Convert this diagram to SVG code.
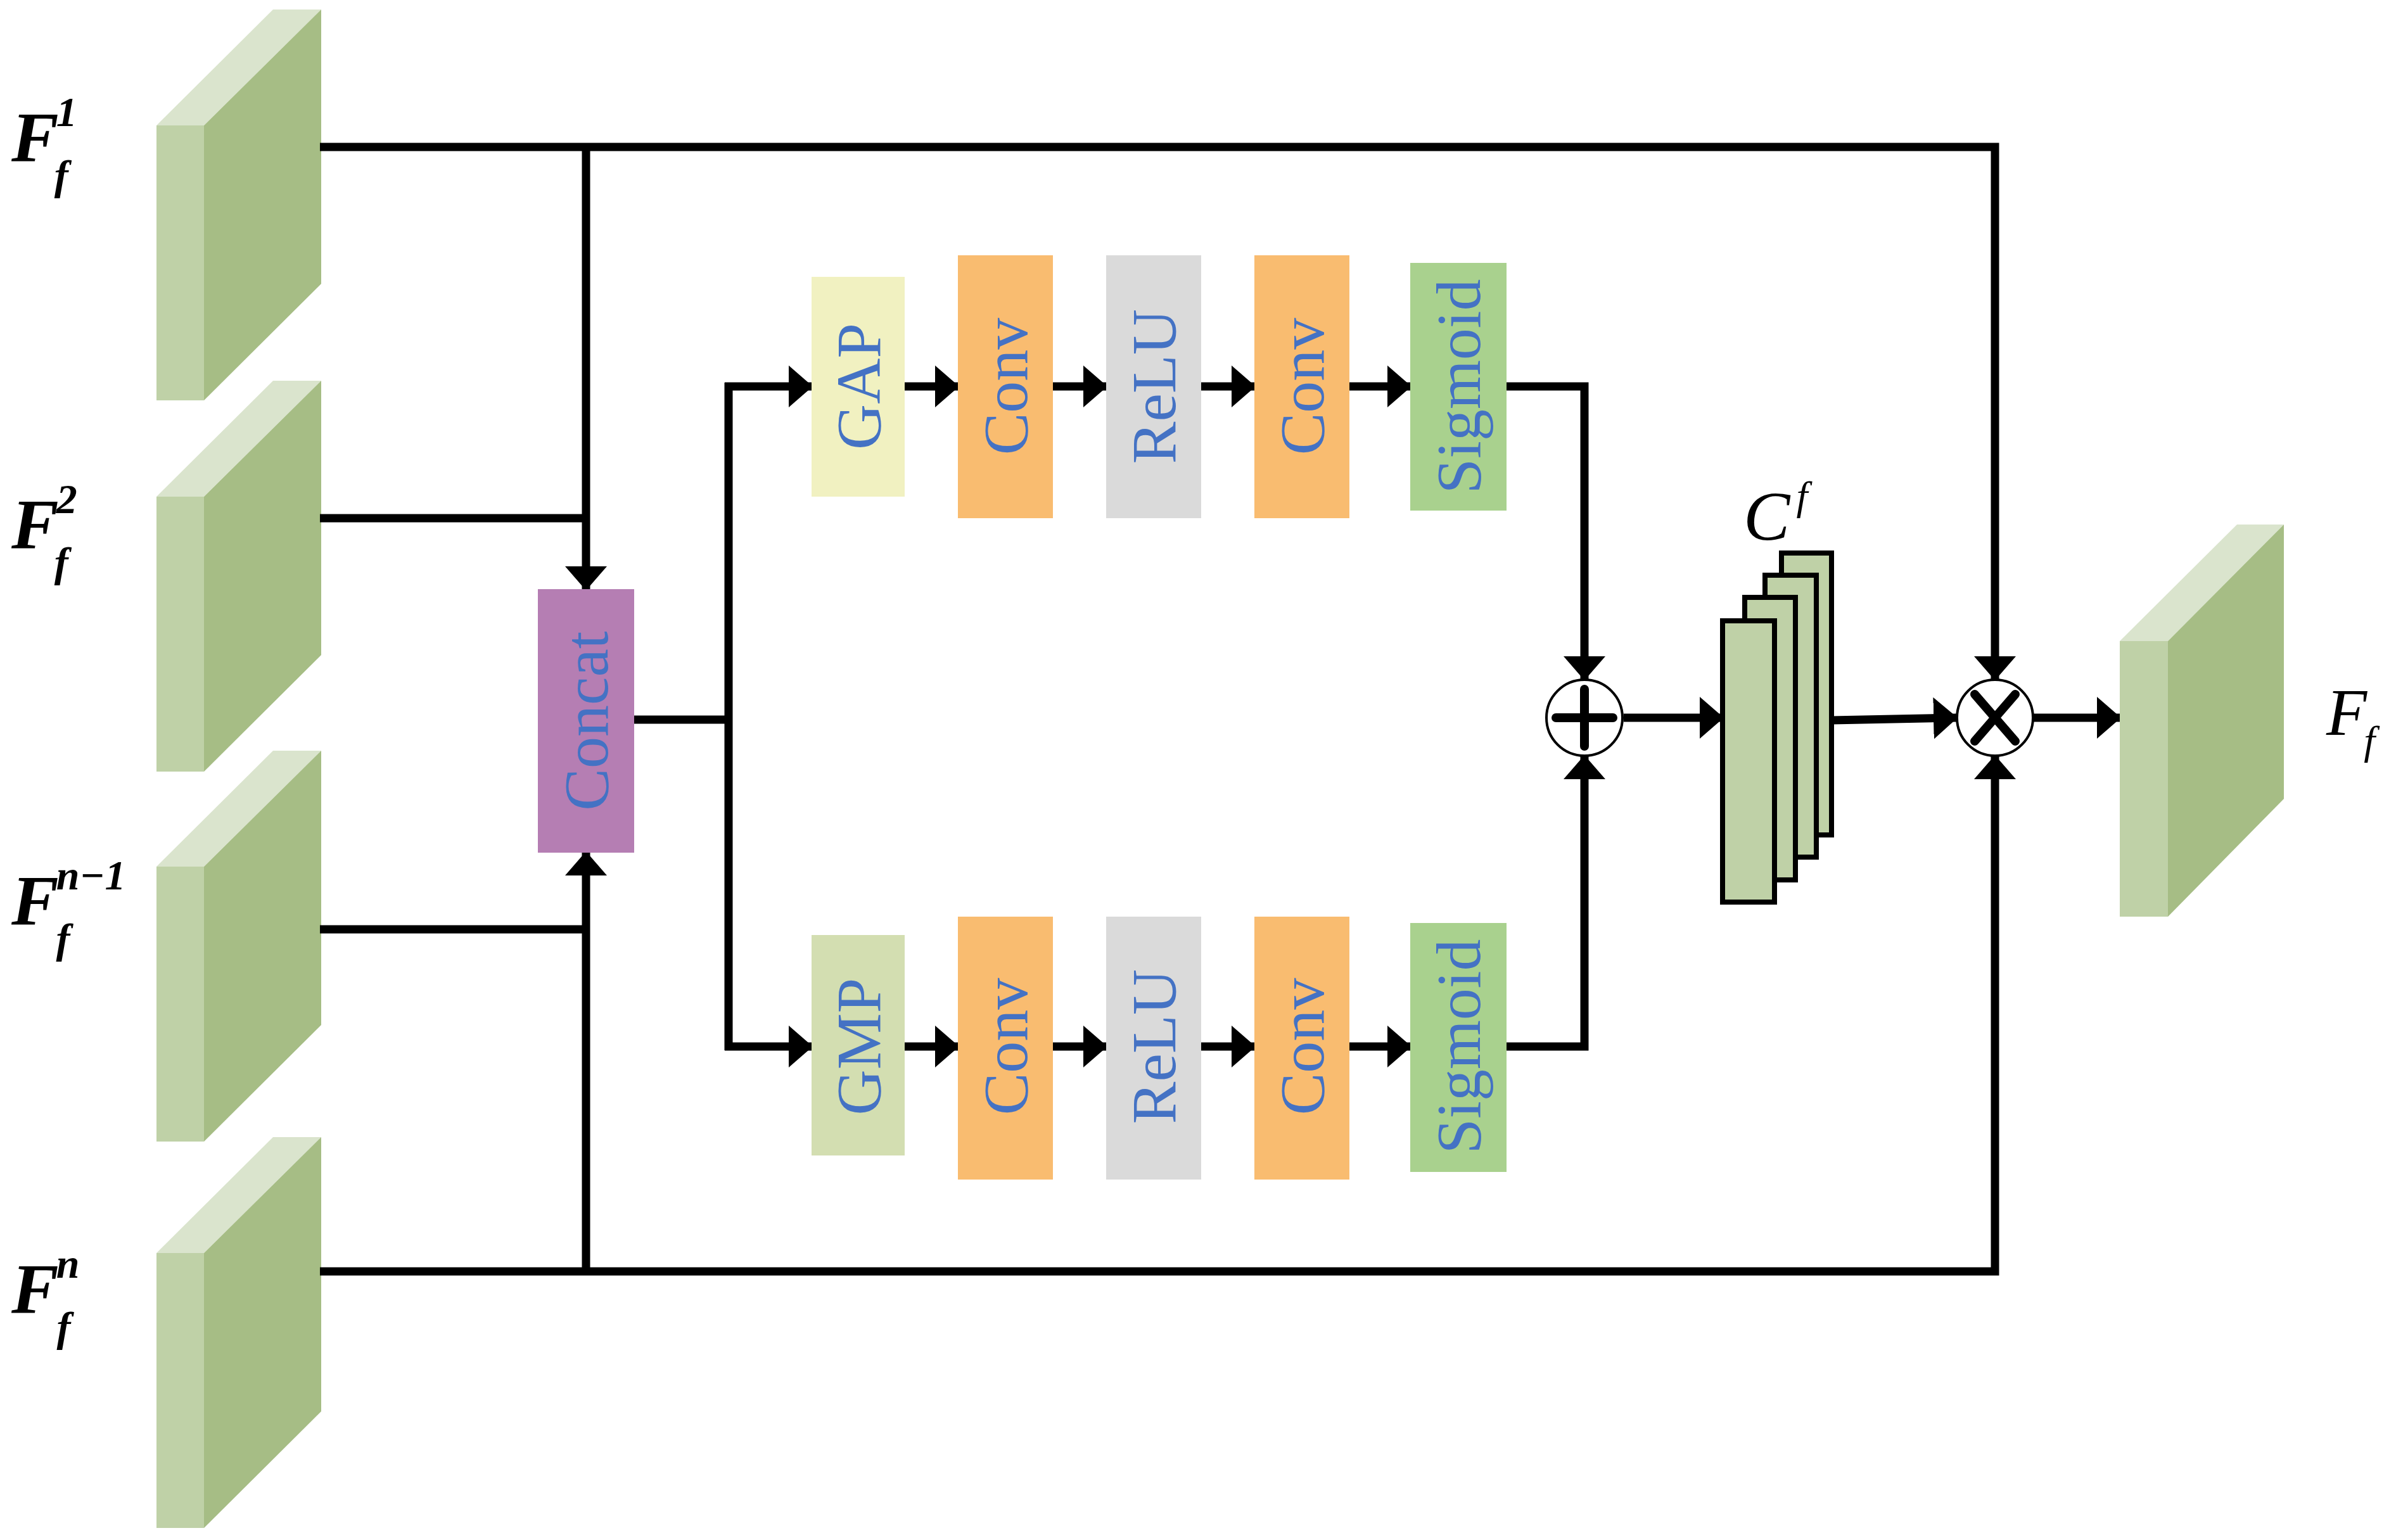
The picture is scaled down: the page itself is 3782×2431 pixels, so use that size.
<svg xmlns="http://www.w3.org/2000/svg" width="3782" height="2431" viewBox="0 0 3782 2431">
<style>
.fr{fill:#BFD1A7}.sd{fill:#A6BD85}.tp{fill:#DAE4CD}
.ln{fill:none;stroke:#000;stroke-width:13}
.bt{font-family:"Liberation Serif",serif;font-size:100px;fill:#4472C4;text-anchor:middle;dominant-baseline:central}
.mt{font-family:"Liberation Serif",serif;font-style:italic;fill:#000}
.st{fill:#BFD1A7;stroke:#000;stroke-width:8}
</style>
<defs>
<marker id="ah" markerUnits="userSpaceOnUse" markerWidth="40" markerHeight="66" refX="36" refY="33" orient="auto" viewBox="0 0 40 66">
<path d="M0,0 L38,33 L0,66 z" fill="#000"/>
</marker>
<g id="cube">
<polygon class="tp" points="0,0 184,-183 260,-183 75,0"/>
<polygon class="sd" points="75,0 260,-183 260,250 75,434"/>
<rect class="fr" x="0" y="0" width="75" height="434"/>
</g>
</defs>
<g id="cubes">
<g id="in1"><use href="#cube" x="247" y="198"/></g>
<g id="in2"><use href="#cube" x="247" y="784"/></g>
<g id="in3"><use href="#cube" x="247" y="1368"/></g>
<g id="in4"><use href="#cube" x="247" y="1978"/></g>
</g>
<g id="labels">
<text class="mt" font-weight="bold" font-size="112" x="18" y="255">F<tspan font-size="66" dy="-56" dx="-4">1</tspan><tspan font-size="66" dx="-36" dy="100">f</tspan></text>
<text class="mt" font-weight="bold" font-size="112" x="18" y="866">F<tspan font-size="66" dy="-56" dx="-4">2</tspan><tspan font-size="66" dx="-36" dy="100">f</tspan></text>
<text class="mt" font-weight="bold" font-size="112" x="18" y="1460">F<tspan font-size="66" dy="-56" dx="-4">n−1</tspan><tspan font-size="66" dx="-110" dy="100">f</tspan></text>
<text class="mt" font-weight="bold" font-size="112" x="18" y="2073">F<tspan font-size="66" dy="-56" dx="-4">n</tspan><tspan font-size="66" dx="-36" dy="100">f</tspan></text>
<text class="mt" font-size="110" x="2752" y="852">C<tspan font-size="64" dy="-48" dx="10">f</tspan></text>
<text class="mt" font-size="105" x="3672" y="1160">F<tspan font-size="64" dy="30" dx="-5">f</tspan></text>
</g>
<g id="connectors" class="ln">
<polyline points="505,232 3149,232 3149,1072" marker-end="url(#ah)"/>
<line x1="505" y1="818" x2="925" y2="818"/>
<line x1="925" y1="232" x2="925" y2="930" marker-end="url(#ah)"/>
<line x1="505" y1="1467" x2="925" y2="1467"/>
<polyline points="505,2007 3149,2007 3149,1194" marker-end="url(#ah)"/>
<line x1="925" y1="2007" x2="925" y2="1346" marker-end="url(#ah)"/>
<line x1="1001" y1="1136" x2="1150" y2="1136"/>
<line x1="1150" y1="604" x2="1150" y2="1658"/>
<line x1="1144" y1="610" x2="1281" y2="610" marker-end="url(#ah)"/>
<line x1="1144" y1="1652" x2="1281" y2="1652" marker-end="url(#ah)"/>
<line x1="1428" y1="610" x2="1512" y2="610" marker-end="url(#ah)"/>
<line x1="1662" y1="610" x2="1746" y2="610" marker-end="url(#ah)"/>
<line x1="1896" y1="610" x2="1980" y2="610" marker-end="url(#ah)"/>
<line x1="2130" y1="610" x2="2226" y2="610" marker-end="url(#ah)"/>
<line x1="1428" y1="1652" x2="1512" y2="1652" marker-end="url(#ah)"/>
<line x1="1662" y1="1652" x2="1746" y2="1652" marker-end="url(#ah)"/>
<line x1="1896" y1="1652" x2="1980" y2="1652" marker-end="url(#ah)"/>
<line x1="2130" y1="1652" x2="2226" y2="1652" marker-end="url(#ah)"/>
<polyline points="2378,610 2501,610 2501,1072" marker-end="url(#ah)"/>
<polyline points="2378,1652 2501,1652 2501,1194" marker-end="url(#ah)"/>
<line x1="2563" y1="1133" x2="2719" y2="1133" marker-end="url(#ah)"/>
<line x1="2891" y1="1137" x2="3088" y2="1133" marker-end="url(#ah)"/>
<line x1="3210" y1="1133" x2="3346" y2="1133" marker-end="url(#ah)"/>
</g>
<g id="concat"><rect x="849" y="930" width="152" height="416" fill="#B57EB3"/><text class="bt" transform="translate(925,1138) rotate(-90)">Concat</text></g>
<g id="gap"><rect x="1281" y="437" width="147" height="347" fill="#F1F1C1"/><text class="bt" transform="translate(1355,610) rotate(-90)">GAP</text></g>
<g id="conv1"><rect x="1512" y="403" width="150" height="415" fill="#F9BC70"/><text class="bt" transform="translate(1587,610) rotate(-90)">Conv</text></g>
<g id="relu1"><rect x="1746" y="403" width="150" height="415" fill="#DADADA"/><text class="bt" transform="translate(1821,610) rotate(-90)">ReLU</text></g>
<g id="conv2"><rect x="1980" y="403" width="150" height="415" fill="#F9BC70"/><text class="bt" transform="translate(2055,610) rotate(-90)">Conv</text></g>
<g id="sig1"><rect x="2226" y="415" width="152" height="391" fill="#A9D18E"/><text class="bt" transform="translate(2302,610) rotate(-90)">Sigmoid</text></g>
<g id="gmp"><rect x="1281" y="1476" width="147" height="348" fill="#D3DEB1"/><text class="bt" transform="translate(1355,1652) rotate(-90)">GMP</text></g>
<g id="conv3"><rect x="1512" y="1447" width="150" height="415" fill="#F9BC70"/><text class="bt" transform="translate(1587,1652) rotate(-90)">Conv</text></g>
<g id="relu2"><rect x="1746" y="1447" width="150" height="415" fill="#DADADA"/><text class="bt" transform="translate(1821,1652) rotate(-90)">ReLU</text></g>
<g id="conv4"><rect x="1980" y="1447" width="150" height="415" fill="#F9BC70"/><text class="bt" transform="translate(2055,1652) rotate(-90)">Conv</text></g>
<g id="sig2"><rect x="2226" y="1457" width="152" height="393" fill="#A9D18E"/><text class="bt" transform="translate(2302,1652) rotate(-90)">Sigmoid</text></g>
<g id="plus"><circle cx="2501" cy="1133" r="60" fill="#fff" stroke="#000" stroke-width="4"/><path d="M2501,1088 V1178 M2456,1133 H2546" stroke="#000" stroke-width="14" stroke-linecap="round"/></g>
<g id="cf">
<rect class="st" x="2812" y="873" width="79" height="445"/>
<rect class="st" x="2786" y="908" width="81" height="445"/>
<rect class="st" x="2754" y="943" width="80" height="446"/>
<rect class="st" x="2719" y="980" width="82" height="444"/>
</g>
<g id="mult"><circle cx="3149" cy="1133" r="60" fill="#fff" stroke="#000" stroke-width="4"/><path d="M3117,1096 L3181,1170 M3181,1096 L3117,1170" stroke="#000" stroke-width="14" stroke-linecap="round"/></g>
<g id="out">
<polygon class="tp" points="3346,1012 3531,828 3605,828 3422,1012"/>
<polygon class="sd" points="3422,1012 3605,828 3605,1261 3422,1447"/>
<rect class="fr" x="3346" y="1012" width="76" height="435"/>
</g>
</svg>
